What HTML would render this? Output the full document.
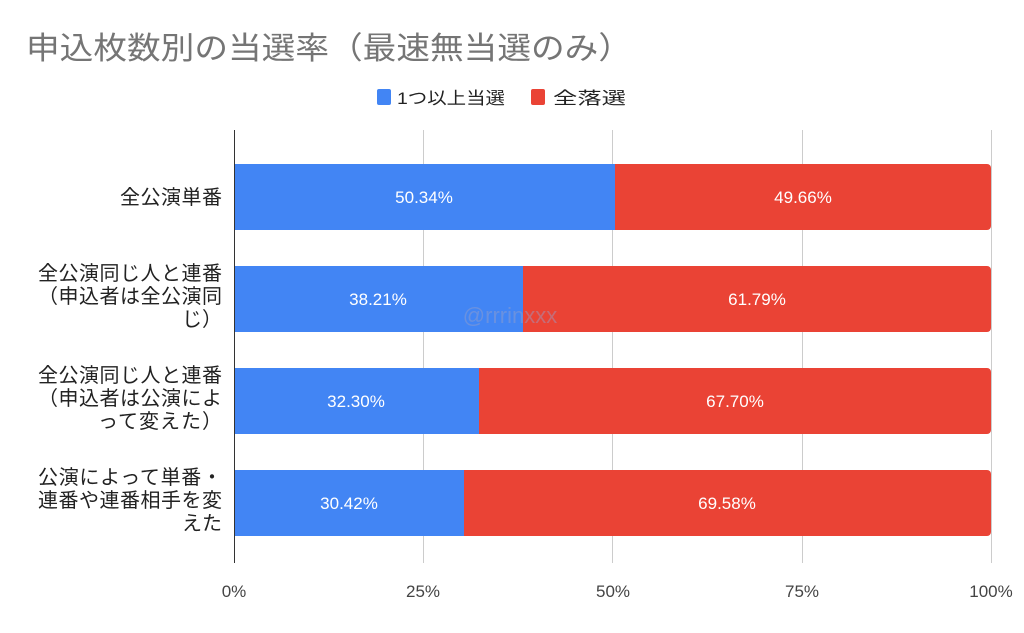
<!DOCTYPE html>
<html><head><meta charset="utf-8"><style>
html,body{margin:0;padding:0;background:#fff;}
svg{display:block;font-family:"Liberation Sans","Noto Sans CJK JP",sans-serif;}
</style></head><body>
<svg width="1024" height="633" viewBox="0 0 1024 633" xmlns="http://www.w3.org/2000/svg">
<rect width="1024" height="633" fill="#fff"/>
<text x="26" y="59" font-size="31" fill="#757575" textLength="606" lengthAdjust="spacingAndGlyphs">申込枚数別の当選率（最速無当選のみ）</text>
<rect x="377" y="89" width="14" height="16" rx="2" fill="#4285F4"/>
<text x="397" y="104" font-size="17" fill="#222" textLength="108" lengthAdjust="spacingAndGlyphs">1つ以上当選</text>
<rect x="531" y="89" width="14" height="16" rx="2" fill="#EA4335"/>
<text x="553" y="104" font-size="17" fill="#222" textLength="73" lengthAdjust="spacingAndGlyphs">全落選</text>
<g stroke="#cccccc" stroke-width="1">
<line x1="423.5" y1="130" x2="423.5" y2="563"/>
<line x1="612.5" y1="130" x2="612.5" y2="563"/>
<line x1="802.5" y1="130" x2="802.5" y2="563"/>
<line x1="991.5" y1="130" x2="991.5" y2="563"/>
</g>
<rect x="234" y="164" width="381" height="66" fill="#4285F4"/>
<path d="M615 164 H987 a4 4 0 0 1 4 4 V226 a4 4 0 0 1 -4 4 H615 Z" fill="#EA4335"/>
<rect x="234" y="266" width="289" height="66" fill="#4285F4"/>
<path d="M523 266 H987 a4 4 0 0 1 4 4 V328 a4 4 0 0 1 -4 4 H523 Z" fill="#EA4335"/>
<rect x="234" y="368" width="245" height="66" fill="#4285F4"/>
<path d="M479 368 H987 a4 4 0 0 1 4 4 V430 a4 4 0 0 1 -4 4 H479 Z" fill="#EA4335"/>
<rect x="234" y="470" width="230" height="66" fill="#4285F4"/>
<path d="M464 470 H987 a4 4 0 0 1 4 4 V532 a4 4 0 0 1 -4 4 H464 Z" fill="#EA4335"/>
<line x1="234.5" y1="130" x2="234.5" y2="563" stroke="#333" stroke-width="1"/>
<g font-size="17" fill="#fff" text-anchor="middle">
<text x="424" y="203">50.34%</text><text x="803" y="203">49.66%</text>
<text x="378" y="305">38.21%</text><text x="757" y="305">61.79%</text>
<text x="356" y="407">32.30%</text><text x="735" y="407">67.70%</text>
<text x="349" y="509">30.42%</text><text x="727" y="509">69.58%</text>
</g>
<text x="510" y="323" font-size="22" fill="#9aa0c8" fill-opacity="0.45" text-anchor="middle">@rrrinxxx</text>
<g font-size="20" fill="#222" text-anchor="end" lengthAdjust="spacingAndGlyphs">
<text x="222" y="204" textLength="102">全公演単番</text>
<text x="222" y="280" textLength="184">全公演同じ人と連番</text>
<text x="222" y="303" textLength="184">（申込者は全公演同</text>
<text x="222" y="326">じ）</text>
<text x="222" y="382" textLength="184">全公演同じ人と連番</text>
<text x="222" y="405" textLength="184">（申込者は公演によ</text>
<text x="222" y="428" textLength="124">って変えた）</text>
<text x="222" y="484" textLength="184">公演によって単番・</text>
<text x="222" y="507" textLength="184">連番や連番相手を変</text>
<text x="222" y="530">えた</text>
</g>
<g font-size="17" fill="#444" text-anchor="middle">
<text x="234" y="597">0%</text><text x="423" y="597">25%</text><text x="613" y="597">50%</text><text x="802" y="597">75%</text><text x="991" y="597">100%</text>
</g>
</svg>
</body></html>
